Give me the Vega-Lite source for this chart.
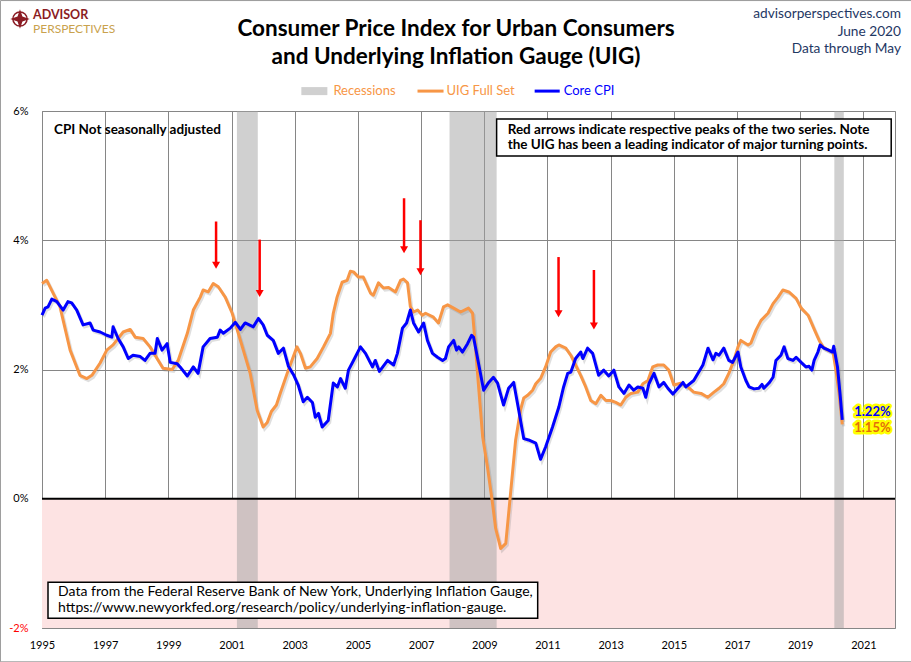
{
  "$schema": "https://vega.github.io/schema/vega-lite/v6.json",
  "width": 853,
  "height": 517,
  "autosize": {"type": "none"},
  "padding": {"left": 42, "top": 111, "right": 16, "bottom": 34},
  "background": "white",
  "config": {
    "view": {"stroke": "#868686", "strokeWidth": 1},
    "font": "Lato",
    "text": {"font": "Lato"}
  },
  "datasets": {
    "cpi": [
      {"date": 1995.00, "series": "UIG Full Set", "value": 3.33},
      {"date": 1995.15, "series": "UIG Full Set", "value": 3.38},
      {"date": 1995.57, "series": "UIG Full Set", "value": 2.97},
      {"date": 1995.89, "series": "UIG Full Set", "value": 2.30},
      {"date": 1996.20, "series": "UIG Full Set", "value": 1.91},
      {"date": 1996.42, "series": "UIG Full Set", "value": 1.86},
      {"date": 1996.58, "series": "UIG Full Set", "value": 1.91},
      {"date": 1996.84, "series": "UIG Full Set", "value": 2.10},
      {"date": 1997.05, "series": "UIG Full Set", "value": 2.30},
      {"date": 1997.25, "series": "UIG Full Set", "value": 2.38},
      {"date": 1997.57, "series": "UIG Full Set", "value": 2.58},
      {"date": 1997.79, "series": "UIG Full Set", "value": 2.62},
      {"date": 1997.95, "series": "UIG Full Set", "value": 2.50},
      {"date": 1998.20, "series": "UIG Full Set", "value": 2.48},
      {"date": 1998.42, "series": "UIG Full Set", "value": 2.35},
      {"date": 1998.68, "series": "UIG Full Set", "value": 2.14},
      {"date": 1998.83, "series": "UIG Full Set", "value": 2.02},
      {"date": 1999.12, "series": "UIG Full Set", "value": 2.00},
      {"date": 1999.31, "series": "UIG Full Set", "value": 2.14},
      {"date": 1999.60, "series": "UIG Full Set", "value": 2.56},
      {"date": 1999.79, "series": "UIG Full Set", "value": 2.92},
      {"date": 2000.01, "series": "UIG Full Set", "value": 3.12},
      {"date": 2000.10, "series": "UIG Full Set", "value": 3.23},
      {"date": 2000.26, "series": "UIG Full Set", "value": 3.20},
      {"date": 2000.42, "series": "UIG Full Set", "value": 3.33},
      {"date": 2000.58, "series": "UIG Full Set", "value": 3.28},
      {"date": 2000.80, "series": "UIG Full Set", "value": 3.12},
      {"date": 2001.02, "series": "UIG Full Set", "value": 2.87},
      {"date": 2001.28, "series": "UIG Full Set", "value": 2.45},
      {"date": 2001.59, "series": "UIG Full Set", "value": 1.94},
      {"date": 2001.81, "series": "UIG Full Set", "value": 1.37},
      {"date": 2002.00, "series": "UIG Full Set", "value": 1.11},
      {"date": 2002.13, "series": "UIG Full Set", "value": 1.18},
      {"date": 2002.26, "series": "UIG Full Set", "value": 1.35},
      {"date": 2002.42, "series": "UIG Full Set", "value": 1.45},
      {"date": 2002.54, "series": "UIG Full Set", "value": 1.63},
      {"date": 2002.76, "series": "UIG Full Set", "value": 1.94},
      {"date": 2002.91, "series": "UIG Full Set", "value": 2.14},
      {"date": 2003.07, "series": "UIG Full Set", "value": 2.35},
      {"date": 2003.18, "series": "UIG Full Set", "value": 2.25},
      {"date": 2003.34, "series": "UIG Full Set", "value": 2.02},
      {"date": 2003.49, "series": "UIG Full Set", "value": 2.04},
      {"date": 2003.71, "series": "UIG Full Set", "value": 2.17},
      {"date": 2003.91, "series": "UIG Full Set", "value": 2.35},
      {"date": 2004.13, "series": "UIG Full Set", "value": 2.56},
      {"date": 2004.22, "series": "UIG Full Set", "value": 2.87},
      {"date": 2004.34, "series": "UIG Full Set", "value": 3.12},
      {"date": 2004.50, "series": "UIG Full Set", "value": 3.35},
      {"date": 2004.66, "series": "UIG Full Set", "value": 3.38},
      {"date": 2004.76, "series": "UIG Full Set", "value": 3.52},
      {"date": 2004.86, "series": "UIG Full Set", "value": 3.51},
      {"date": 2005.02, "series": "UIG Full Set", "value": 3.43},
      {"date": 2005.17, "series": "UIG Full Set", "value": 3.43},
      {"date": 2005.40, "series": "UIG Full Set", "value": 3.18},
      {"date": 2005.49, "series": "UIG Full Set", "value": 3.15},
      {"date": 2005.65, "series": "UIG Full Set", "value": 3.34},
      {"date": 2005.81, "series": "UIG Full Set", "value": 3.26},
      {"date": 2005.97, "series": "UIG Full Set", "value": 3.27},
      {"date": 2006.19, "series": "UIG Full Set", "value": 3.20},
      {"date": 2006.35, "series": "UIG Full Set", "value": 3.38},
      {"date": 2006.44, "series": "UIG Full Set", "value": 3.40},
      {"date": 2006.57, "series": "UIG Full Set", "value": 3.34},
      {"date": 2006.66, "series": "UIG Full Set", "value": 2.97},
      {"date": 2006.76, "series": "UIG Full Set", "value": 2.89},
      {"date": 2006.89, "series": "UIG Full Set", "value": 2.92},
      {"date": 2007.04, "series": "UIG Full Set", "value": 2.84},
      {"date": 2007.14, "series": "UIG Full Set", "value": 2.87},
      {"date": 2007.39, "series": "UIG Full Set", "value": 2.81},
      {"date": 2007.55, "series": "UIG Full Set", "value": 2.72},
      {"date": 2007.71, "series": "UIG Full Set", "value": 2.97},
      {"date": 2007.84, "series": "UIG Full Set", "value": 3.00},
      {"date": 2008.03, "series": "UIG Full Set", "value": 2.95},
      {"date": 2008.25, "series": "UIG Full Set", "value": 2.89},
      {"date": 2008.50, "series": "UIG Full Set", "value": 2.95},
      {"date": 2008.63, "series": "UIG Full Set", "value": 2.87},
      {"date": 2008.72, "series": "UIG Full Set", "value": 2.35},
      {"date": 2008.82, "series": "UIG Full Set", "value": 1.73},
      {"date": 2008.95, "series": "UIG Full Set", "value": 0.95},
      {"date": 2009.10, "series": "UIG Full Set", "value": 0.49},
      {"date": 2009.26, "series": "UIG Full Set", "value": -0.07},
      {"date": 2009.36, "series": "UIG Full Set", "value": -0.46},
      {"date": 2009.52, "series": "UIG Full Set", "value": -0.77},
      {"date": 2009.68, "series": "UIG Full Set", "value": -0.69},
      {"date": 2009.77, "series": "UIG Full Set", "value": -0.23},
      {"date": 2009.90, "series": "UIG Full Set", "value": 0.44},
      {"date": 2009.99, "series": "UIG Full Set", "value": 0.90},
      {"date": 2010.15, "series": "UIG Full Set", "value": 1.38},
      {"date": 2010.25, "series": "UIG Full Set", "value": 1.56},
      {"date": 2010.37, "series": "UIG Full Set", "value": 1.60},
      {"date": 2010.53, "series": "UIG Full Set", "value": 1.68},
      {"date": 2010.63, "series": "UIG Full Set", "value": 1.78},
      {"date": 2010.78, "series": "UIG Full Set", "value": 1.86},
      {"date": 2010.94, "series": "UIG Full Set", "value": 2.04},
      {"date": 2011.10, "series": "UIG Full Set", "value": 2.27},
      {"date": 2011.26, "series": "UIG Full Set", "value": 2.35},
      {"date": 2011.36, "series": "UIG Full Set", "value": 2.38},
      {"date": 2011.58, "series": "UIG Full Set", "value": 2.33},
      {"date": 2011.74, "series": "UIG Full Set", "value": 2.22},
      {"date": 2011.89, "series": "UIG Full Set", "value": 2.07},
      {"date": 2012.05, "series": "UIG Full Set", "value": 1.91},
      {"date": 2012.21, "series": "UIG Full Set", "value": 1.73},
      {"date": 2012.37, "series": "UIG Full Set", "value": 1.52},
      {"date": 2012.53, "series": "UIG Full Set", "value": 1.47},
      {"date": 2012.69, "series": "UIG Full Set", "value": 1.60},
      {"date": 2012.85, "series": "UIG Full Set", "value": 1.52},
      {"date": 2013.00, "series": "UIG Full Set", "value": 1.52},
      {"date": 2013.16, "series": "UIG Full Set", "value": 1.49},
      {"date": 2013.32, "series": "UIG Full Set", "value": 1.45},
      {"date": 2013.48, "series": "UIG Full Set", "value": 1.57},
      {"date": 2013.64, "series": "UIG Full Set", "value": 1.63},
      {"date": 2013.86, "series": "UIG Full Set", "value": 1.65},
      {"date": 2014.02, "series": "UIG Full Set", "value": 1.78},
      {"date": 2014.18, "series": "UIG Full Set", "value": 1.83},
      {"date": 2014.33, "series": "UIG Full Set", "value": 2.04},
      {"date": 2014.49, "series": "UIG Full Set", "value": 2.07},
      {"date": 2014.68, "series": "UIG Full Set", "value": 2.07},
      {"date": 2014.84, "series": "UIG Full Set", "value": 1.99},
      {"date": 2015.00, "series": "UIG Full Set", "value": 1.76},
      {"date": 2015.22, "series": "UIG Full Set", "value": 1.79},
      {"date": 2015.44, "series": "UIG Full Set", "value": 1.73},
      {"date": 2015.63, "series": "UIG Full Set", "value": 1.65},
      {"date": 2015.86, "series": "UIG Full Set", "value": 1.63},
      {"date": 2016.07, "series": "UIG Full Set", "value": 1.57},
      {"date": 2016.27, "series": "UIG Full Set", "value": 1.65},
      {"date": 2016.43, "series": "UIG Full Set", "value": 1.71},
      {"date": 2016.58, "series": "UIG Full Set", "value": 1.78},
      {"date": 2016.74, "series": "UIG Full Set", "value": 1.94},
      {"date": 2016.90, "series": "UIG Full Set", "value": 2.14},
      {"date": 2017.03, "series": "UIG Full Set", "value": 2.35},
      {"date": 2017.12, "series": "UIG Full Set", "value": 2.45},
      {"date": 2017.35, "series": "UIG Full Set", "value": 2.38},
      {"date": 2017.44, "series": "UIG Full Set", "value": 2.41},
      {"date": 2017.60, "series": "UIG Full Set", "value": 2.61},
      {"date": 2017.76, "series": "UIG Full Set", "value": 2.76},
      {"date": 2017.98, "series": "UIG Full Set", "value": 2.87},
      {"date": 2018.14, "series": "UIG Full Set", "value": 3.02},
      {"date": 2018.30, "series": "UIG Full Set", "value": 3.12},
      {"date": 2018.45, "series": "UIG Full Set", "value": 3.23},
      {"date": 2018.64, "series": "UIG Full Set", "value": 3.20},
      {"date": 2018.87, "series": "UIG Full Set", "value": 3.10},
      {"date": 2019.03, "series": "UIG Full Set", "value": 2.95},
      {"date": 2019.25, "series": "UIG Full Set", "value": 2.84},
      {"date": 2019.41, "series": "UIG Full Set", "value": 2.66},
      {"date": 2019.50, "series": "UIG Full Set", "value": 2.56},
      {"date": 2019.60, "series": "UIG Full Set", "value": 2.45},
      {"date": 2019.72, "series": "UIG Full Set", "value": 2.35},
      {"date": 2019.88, "series": "UIG Full Set", "value": 2.30},
      {"date": 2020.04, "series": "UIG Full Set", "value": 2.27},
      {"date": 2020.13, "series": "UIG Full Set", "value": 1.99},
      {"date": 2020.23, "series": "UIG Full Set", "value": 1.63},
      {"date": 2020.33, "series": "UIG Full Set", "value": 1.15},
      {"date": 1995.00, "series": "Core CPI", "value": 2.84},
      {"date": 1995.10, "series": "Core CPI", "value": 2.95},
      {"date": 1995.19, "series": "Core CPI", "value": 2.97},
      {"date": 1995.31, "series": "Core CPI", "value": 3.09},
      {"date": 1995.47, "series": "Core CPI", "value": 3.05},
      {"date": 1995.67, "series": "Core CPI", "value": 2.92},
      {"date": 1995.82, "series": "Core CPI", "value": 3.05},
      {"date": 1995.94, "series": "Core CPI", "value": 3.03},
      {"date": 1996.10, "series": "Core CPI", "value": 2.92},
      {"date": 1996.30, "series": "Core CPI", "value": 2.69},
      {"date": 1996.52, "series": "Core CPI", "value": 2.72},
      {"date": 1996.62, "series": "Core CPI", "value": 2.61},
      {"date": 1996.84, "series": "Core CPI", "value": 2.58},
      {"date": 1997.05, "series": "Core CPI", "value": 2.53},
      {"date": 1997.21, "series": "Core CPI", "value": 2.50},
      {"date": 1997.25, "series": "Core CPI", "value": 2.66},
      {"date": 1997.41, "series": "Core CPI", "value": 2.48},
      {"date": 1997.57, "series": "Core CPI", "value": 2.35},
      {"date": 1997.73, "series": "Core CPI", "value": 2.17},
      {"date": 1997.88, "series": "Core CPI", "value": 2.22},
      {"date": 1998.11, "series": "Core CPI", "value": 2.20},
      {"date": 1998.26, "series": "Core CPI", "value": 2.14},
      {"date": 1998.42, "series": "Core CPI", "value": 2.25},
      {"date": 1998.58, "series": "Core CPI", "value": 2.25},
      {"date": 1998.65, "series": "Core CPI", "value": 2.48},
      {"date": 1998.80, "series": "Core CPI", "value": 2.30},
      {"date": 1998.96, "series": "Core CPI", "value": 2.40},
      {"date": 1999.06, "series": "Core CPI", "value": 2.11},
      {"date": 1999.28, "series": "Core CPI", "value": 2.09},
      {"date": 1999.37, "series": "Core CPI", "value": 2.04},
      {"date": 1999.60, "series": "Core CPI", "value": 1.90},
      {"date": 1999.79, "series": "Core CPI", "value": 2.04},
      {"date": 1999.94, "series": "Core CPI", "value": 1.94},
      {"date": 2000.10, "series": "Core CPI", "value": 2.35},
      {"date": 2000.32, "series": "Core CPI", "value": 2.48},
      {"date": 2000.55, "series": "Core CPI", "value": 2.50},
      {"date": 2000.64, "series": "Core CPI", "value": 2.61},
      {"date": 2000.74, "series": "Core CPI", "value": 2.56},
      {"date": 2000.96, "series": "Core CPI", "value": 2.64},
      {"date": 2001.12, "series": "Core CPI", "value": 2.73},
      {"date": 2001.28, "series": "Core CPI", "value": 2.62},
      {"date": 2001.43, "series": "Core CPI", "value": 2.72},
      {"date": 2001.69, "series": "Core CPI", "value": 2.66},
      {"date": 2001.85, "series": "Core CPI", "value": 2.79},
      {"date": 2002.00, "series": "Core CPI", "value": 2.69},
      {"date": 2002.13, "series": "Core CPI", "value": 2.53},
      {"date": 2002.32, "series": "Core CPI", "value": 2.45},
      {"date": 2002.48, "series": "Core CPI", "value": 2.25},
      {"date": 2002.64, "series": "Core CPI", "value": 2.33},
      {"date": 2002.80, "series": "Core CPI", "value": 2.05},
      {"date": 2002.96, "series": "Core CPI", "value": 1.92},
      {"date": 2003.11, "series": "Core CPI", "value": 1.76},
      {"date": 2003.27, "series": "Core CPI", "value": 1.50},
      {"date": 2003.40, "series": "Core CPI", "value": 1.57},
      {"date": 2003.56, "series": "Core CPI", "value": 1.49},
      {"date": 2003.65, "series": "Core CPI", "value": 1.26},
      {"date": 2003.75, "series": "Core CPI", "value": 1.32},
      {"date": 2003.87, "series": "Core CPI", "value": 1.11},
      {"date": 2004.06, "series": "Core CPI", "value": 1.21},
      {"date": 2004.22, "series": "Core CPI", "value": 1.79},
      {"date": 2004.35, "series": "Core CPI", "value": 1.73},
      {"date": 2004.45, "series": "Core CPI", "value": 1.86},
      {"date": 2004.60, "series": "Core CPI", "value": 1.71},
      {"date": 2004.70, "series": "Core CPI", "value": 1.99},
      {"date": 2004.86, "series": "Core CPI", "value": 2.14},
      {"date": 2005.08, "series": "Core CPI", "value": 2.35},
      {"date": 2005.24, "series": "Core CPI", "value": 2.25},
      {"date": 2005.46, "series": "Core CPI", "value": 2.04},
      {"date": 2005.55, "series": "Core CPI", "value": 2.14},
      {"date": 2005.68, "series": "Core CPI", "value": 1.97},
      {"date": 2005.94, "series": "Core CPI", "value": 2.14},
      {"date": 2006.13, "series": "Core CPI", "value": 2.07},
      {"date": 2006.25, "series": "Core CPI", "value": 2.25},
      {"date": 2006.41, "series": "Core CPI", "value": 2.64},
      {"date": 2006.54, "series": "Core CPI", "value": 2.72},
      {"date": 2006.66, "series": "Core CPI", "value": 2.92},
      {"date": 2006.76, "series": "Core CPI", "value": 2.72},
      {"date": 2006.92, "series": "Core CPI", "value": 2.58},
      {"date": 2007.08, "series": "Core CPI", "value": 2.72},
      {"date": 2007.20, "series": "Core CPI", "value": 2.45},
      {"date": 2007.36, "series": "Core CPI", "value": 2.25},
      {"date": 2007.52, "series": "Core CPI", "value": 2.19},
      {"date": 2007.68, "series": "Core CPI", "value": 2.14},
      {"date": 2007.77, "series": "Core CPI", "value": 2.17},
      {"date": 2007.87, "series": "Core CPI", "value": 2.35},
      {"date": 2008.03, "series": "Core CPI", "value": 2.45},
      {"date": 2008.12, "series": "Core CPI", "value": 2.30},
      {"date": 2008.19, "series": "Core CPI", "value": 2.35},
      {"date": 2008.31, "series": "Core CPI", "value": 2.27},
      {"date": 2008.47, "series": "Core CPI", "value": 2.40},
      {"date": 2008.60, "series": "Core CPI", "value": 2.53},
      {"date": 2008.66, "series": "Core CPI", "value": 2.50},
      {"date": 2008.82, "series": "Core CPI", "value": 2.09},
      {"date": 2008.98, "series": "Core CPI", "value": 1.68},
      {"date": 2009.14, "series": "Core CPI", "value": 1.80},
      {"date": 2009.29, "series": "Core CPI", "value": 1.88},
      {"date": 2009.42, "series": "Core CPI", "value": 1.79},
      {"date": 2009.61, "series": "Core CPI", "value": 1.45},
      {"date": 2009.77, "series": "Core CPI", "value": 1.71},
      {"date": 2009.93, "series": "Core CPI", "value": 1.80},
      {"date": 2010.09, "series": "Core CPI", "value": 1.37},
      {"date": 2010.25, "series": "Core CPI", "value": 0.93},
      {"date": 2010.40, "series": "Core CPI", "value": 0.91},
      {"date": 2010.63, "series": "Core CPI", "value": 0.86},
      {"date": 2010.78, "series": "Core CPI", "value": 0.61},
      {"date": 2010.94, "series": "Core CPI", "value": 0.80},
      {"date": 2011.16, "series": "Core CPI", "value": 1.11},
      {"date": 2011.36, "series": "Core CPI", "value": 1.42},
      {"date": 2011.51, "series": "Core CPI", "value": 1.73},
      {"date": 2011.64, "series": "Core CPI", "value": 1.94},
      {"date": 2011.74, "series": "Core CPI", "value": 1.96},
      {"date": 2011.89, "series": "Core CPI", "value": 2.17},
      {"date": 2012.05, "series": "Core CPI", "value": 2.27},
      {"date": 2012.12, "series": "Core CPI", "value": 2.17},
      {"date": 2012.27, "series": "Core CPI", "value": 2.33},
      {"date": 2012.43, "series": "Core CPI", "value": 2.25},
      {"date": 2012.62, "series": "Core CPI", "value": 1.91},
      {"date": 2012.78, "series": "Core CPI", "value": 1.99},
      {"date": 2012.94, "series": "Core CPI", "value": 1.90},
      {"date": 2013.10, "series": "Core CPI", "value": 1.99},
      {"date": 2013.26, "series": "Core CPI", "value": 1.73},
      {"date": 2013.42, "series": "Core CPI", "value": 1.63},
      {"date": 2013.58, "series": "Core CPI", "value": 1.76},
      {"date": 2013.73, "series": "Core CPI", "value": 1.68},
      {"date": 2013.86, "series": "Core CPI", "value": 1.73},
      {"date": 2014.02, "series": "Core CPI", "value": 1.71},
      {"date": 2014.11, "series": "Core CPI", "value": 1.57},
      {"date": 2014.21, "series": "Core CPI", "value": 1.78},
      {"date": 2014.37, "series": "Core CPI", "value": 1.94},
      {"date": 2014.53, "series": "Core CPI", "value": 1.73},
      {"date": 2014.68, "series": "Core CPI", "value": 1.80},
      {"date": 2014.81, "series": "Core CPI", "value": 1.71},
      {"date": 2014.97, "series": "Core CPI", "value": 1.62},
      {"date": 2015.13, "series": "Core CPI", "value": 1.71},
      {"date": 2015.29, "series": "Core CPI", "value": 1.80},
      {"date": 2015.38, "series": "Core CPI", "value": 1.73},
      {"date": 2015.63, "series": "Core CPI", "value": 1.83},
      {"date": 2015.76, "series": "Core CPI", "value": 1.94},
      {"date": 2015.92, "series": "Core CPI", "value": 2.07},
      {"date": 2016.08, "series": "Core CPI", "value": 2.33},
      {"date": 2016.24, "series": "Core CPI", "value": 2.15},
      {"date": 2016.33, "series": "Core CPI", "value": 2.25},
      {"date": 2016.43, "series": "Core CPI", "value": 2.22},
      {"date": 2016.58, "series": "Core CPI", "value": 2.33},
      {"date": 2016.74, "series": "Core CPI", "value": 2.14},
      {"date": 2016.86, "series": "Core CPI", "value": 2.11},
      {"date": 2017.03, "series": "Core CPI", "value": 2.27},
      {"date": 2017.12, "series": "Core CPI", "value": 2.04},
      {"date": 2017.28, "series": "Core CPI", "value": 1.83},
      {"date": 2017.38, "series": "Core CPI", "value": 1.73},
      {"date": 2017.54, "series": "Core CPI", "value": 1.70},
      {"date": 2017.69, "series": "Core CPI", "value": 1.71},
      {"date": 2017.79, "series": "Core CPI", "value": 1.77},
      {"date": 2017.85, "series": "Core CPI", "value": 1.71},
      {"date": 2018.01, "series": "Core CPI", "value": 1.79},
      {"date": 2018.14, "series": "Core CPI", "value": 1.88},
      {"date": 2018.23, "series": "Core CPI", "value": 2.14},
      {"date": 2018.39, "series": "Core CPI", "value": 2.22},
      {"date": 2018.49, "series": "Core CPI", "value": 2.35},
      {"date": 2018.61, "series": "Core CPI", "value": 2.17},
      {"date": 2018.77, "series": "Core CPI", "value": 2.14},
      {"date": 2018.87, "series": "Core CPI", "value": 2.19},
      {"date": 2019.03, "series": "Core CPI", "value": 2.11},
      {"date": 2019.18, "series": "Core CPI", "value": 2.04},
      {"date": 2019.28, "series": "Core CPI", "value": 2.05},
      {"date": 2019.37, "series": "Core CPI", "value": 1.99},
      {"date": 2019.44, "series": "Core CPI", "value": 2.14},
      {"date": 2019.56, "series": "Core CPI", "value": 2.27},
      {"date": 2019.63, "series": "Core CPI", "value": 2.38},
      {"date": 2019.75, "series": "Core CPI", "value": 2.33},
      {"date": 2019.90, "series": "Core CPI", "value": 2.30},
      {"date": 2020.02, "series": "Core CPI", "value": 2.27},
      {"date": 2020.06, "series": "Core CPI", "value": 2.36},
      {"date": 2020.18, "series": "Core CPI", "value": 2.04},
      {"date": 2020.27, "series": "Core CPI", "value": 1.57},
      {"date": 2020.33, "series": "Core CPI", "value": 1.22}
    ],
    "recessions": [
      {"start": 2001.17, "end": 2001.83},
      {"start": 2007.90, "end": 2009.39},
      {"start": 2020.08, "end": 2020.38}
    ],
    "arrows": [
      {"date": 2000.51, "top": 4.29, "tip": 3.56},
      {"date": 2001.89, "top": 4.01, "tip": 3.12},
      {"date": 2006.46, "top": 4.65, "tip": 3.80},
      {"date": 2006.98, "top": 4.31, "tip": 3.46},
      {"date": 2011.35, "top": 3.74, "tip": 2.81},
      {"date": 2012.47, "top": 3.54, "tip": 2.62}
    ],
    "boxes": [
      {"left": 2009.39, "right": 2021.88, "top": 5.875, "bottom": 5.302},
      {"left": 1995.19, "right": 2010.69, "top": -1.293, "bottom": -1.85}
    ],
    "boldNotes": [
      {"date": 1995.38, "value": 5.70, "text": "CPI Not seasonally adjusted"},
      {"date": 2009.74, "value": 5.704, "text": "Red arrows indicate respective peaks of the two series. Note\nthe UIG has been a leading indicator of major turning points."}
    ],
    "lastValues": [
      {"date": 2020.33, "series": "Core CPI", "value": 1.22, "text": "1.22%"},
      {"date": 2020.33, "series": "UIG Full Set", "value": 1.15, "text": "1.15%"}
    ],
    "legendLines": [
      {"start": 2006.886, "end": 2007.71, "series": "UIG Full Set"},
      {"start": 2010.594, "end": 2011.387, "series": "Core CPI"}
    ],
    "legendLabels": [
      {"date": 2004.223, "series": "Recessions"},
      {"date": 2007.805, "series": "UIG Full Set"},
      {"date": 2011.513, "series": "Core CPI"}
    ]
  },
  "layer": [
    {
      "data": {"values": [{}]},
      "mark": {"type": "rect", "color": "#fde3e3"},
      "encoding": {
        "y": {"datum": 0, "type": "quantitative", "title": null},
        "y2": {"datum": -2}
      }
    },
    {
      "data": {"name": "recessions"},
      "mark": {"type": "rect", "color": "#a2a2a2", "opacity": 0.5},
      "encoding": {
        "x": {"field": "start", "type": "quantitative", "title": null},
        "x2": {"field": "end"}
      }
    },
    {
      "data": {"values": [{}]},
      "mark": {"type": "rule", "color": "black", "strokeWidth": 2},
      "encoding": {"y": {"datum": 0, "type": "quantitative", "title": null}}
    },
    {
      "data": {"name": "cpi"},
      "mark": {"type": "line", "color": "#7f7f7f", "opacity": 0.25, "strokeWidth": 3, "xOffset": 1.5, "yOffset": 2},
      "encoding": {
        "x": {"field": "date", "type": "quantitative", "title": null},
        "y": {"field": "value", "type": "quantitative", "title": null},
        "detail": {"field": "series"}
      }
    },
    {
      "data": {"name": "cpi"},
      "transform": [{"filter": "datum.series === 'UIG Full Set'"}],
      "mark": {"type": "line", "strokeWidth": 3, "strokeJoin": "round"},
      "encoding": {
        "x": {
          "field": "date",
          "type": "quantitative",
          "title": null,
          "scale": {"domain": [1995, 2022], "nice": false, "zero": false},
          "axis": {
            "values": [1995, 1996, 1997, 1998, 1999, 2000, 2001, 2002, 2003, 2004, 2005, 2006, 2007, 2008, 2009, 2010, 2011, 2012, 2013, 2014, 2015, 2016, 2017, 2018, 2019, 2020, 2021, 2022],
            "format": "d",
            "labelExpr": "datum.value % 2 === 1 ? datum.label : ''",
            "grid": true,
            "gridColor": {"condition": {"test": "datum.value % 2 === 1", "value": "#868686"}, "value": "#d4d4d4"},
            "ticks": false,
            "domain": false,
            "labelFont": "Lato",
            "labelFontSize": 11,
            "labelColor": "black",
            "labelPadding": 11,
            "labelFlush": false,
            "labelOverlap": false,
            "labelBound": false
          }
        },
        "y": {
          "field": "value",
          "type": "quantitative",
          "title": null,
          "scale": {"domain": [-2, 6], "nice": false, "zero": false},
          "axis": {
            "values": [-2, 0, 2, 4, 6],
            "labelExpr": "datum.value + '%'",
            "labelColor": {"condition": {"test": "datum.value < 0", "value": "#ff0000"}, "value": "black"},
            "grid": true,
            "gridColor": "#868686",
            "ticks": false,
            "domain": false,
            "labelFont": "Lato",
            "labelFontSize": 11,
            "labelPadding": 14
          }
        },
        "color": {
          "field": "series",
          "type": "nominal",
          "scale": {"domain": ["UIG Full Set", "Core CPI"], "range": ["#f79646", "#0000ff"]},
          "legend": null
        }
      }
    },
    {
      "data": {"name": "cpi"},
      "transform": [{"filter": "datum.series === 'Core CPI'"}],
      "mark": {"type": "line", "strokeWidth": 3, "strokeJoin": "round"},
      "encoding": {
        "x": {"field": "date", "type": "quantitative", "title": null},
        "y": {"field": "value", "type": "quantitative", "title": null},
        "color": {"field": "series", "type": "nominal", "legend": null}
      }
    },
    {
      "data": {"name": "arrows"},
      "mark": {"type": "rule", "color": "#ff0000", "strokeWidth": 2.5, "y2Offset": -5},
      "encoding": {
        "x": {"field": "date", "type": "quantitative", "title": null},
        "y": {"field": "top", "type": "quantitative", "title": null},
        "y2": {"field": "tip"}
      }
    },
    {
      "data": {"name": "arrows"},
      "mark": {"type": "point", "shape": "M-1,-1.75L1,-1.75L0,0Z", "filled": true, "color": "#ff0000", "size": 64, "opacity": 1},
      "encoding": {
        "x": {"field": "date", "type": "quantitative", "title": null},
        "y": {"field": "tip", "type": "quantitative", "title": null}
      }
    },
    {
      "data": {"name": "boxes"},
      "mark": {"type": "rect", "fill": "white", "stroke": "black", "strokeWidth": 1.5},
      "encoding": {
        "x": {"field": "left", "type": "quantitative", "title": null},
        "x2": {"field": "right"},
        "y": {"field": "top", "type": "quantitative", "title": null},
        "y2": {"field": "bottom"}
      }
    },
    {
      "data": {"name": "boldNotes"},
      "mark": {"type": "text", "align": "left", "baseline": "middle", "font": "Lato", "fontSize": 13.5, "fontWeight": "bold", "color": "black", "lineBreak": "\n", "lineHeight": 15},
      "encoding": {
        "x": {"field": "date", "type": "quantitative", "title": null},
        "y": {"field": "value", "type": "quantitative", "title": null},
        "text": {"field": "text"}
      }
    },
    {
      "data": {"values": [{}]},
      "mark": {"type": "text", "align": "left", "baseline": "middle", "font": "Lato", "fontSize": 14, "color": "black", "lineBreak": "\n", "lineHeight": 16},
      "encoding": {
        "x": {"datum": 1995.51, "type": "quantitative", "title": null},
        "y": {"datum": -1.447, "type": "quantitative", "title": null},
        "text": {"value": "Data from the Federal Reserve Bank of New York, Underlying Inflation Gauge,\nhttps://www.newyorkfed.org/research/policy/underlying-inflation-gauge."}
      }
    },
    {
      "data": {"name": "lastValues"},
      "transform": [{"filter": "datum.series === 'Core CPI'"}],
      "layer": [
        {"mark": {"type": "text", "align": "left", "baseline": "middle", "dx": 12, "dy": -8, "font": "Lato", "fontSize": 13, "fontWeight": "bold", "fill": "#ffff00", "stroke": "#ffff00", "strokeWidth": 5, "strokeJoin": "round"}},
        {"mark": {"type": "text", "align": "left", "baseline": "middle", "dx": 12, "dy": -8, "font": "Lato", "fontSize": 13, "fontWeight": "bold", "fill": "#0000ff"}}
      ],
      "encoding": {
        "x": {"field": "date", "type": "quantitative", "title": null},
        "y": {"field": "value", "type": "quantitative", "title": null},
        "text": {"field": "text"}
      }
    },
    {
      "data": {"name": "lastValues"},
      "transform": [{"filter": "datum.series === 'UIG Full Set'"}],
      "layer": [
        {"mark": {"type": "text", "align": "left", "baseline": "middle", "dx": 12, "dy": 4, "font": "Lato", "fontSize": 13, "fontWeight": "bold", "fill": "#ffff00", "stroke": "#ffff00", "strokeWidth": 5, "strokeJoin": "round"}},
        {"mark": {"type": "text", "align": "left", "baseline": "middle", "dx": 12, "dy": 4, "font": "Lato", "fontSize": 13, "fontWeight": "bold", "fill": "#e46c0a"}}
      ],
      "encoding": {
        "x": {"field": "date", "type": "quantitative", "title": null},
        "y": {"field": "value", "type": "quantitative", "title": null},
        "text": {"field": "text"}
      }
    },
    {
      "data": {"values": [{}]},
      "mark": {"type": "rect", "color": "#d0d0d0"},
      "encoding": {
        "x": {"datum": 2003.209, "type": "quantitative", "title": null},
        "x2": {"datum": 2004.033},
        "y": {"datum": 6.37, "type": "quantitative", "title": null},
        "y2": {"datum": 6.246}
      }
    },
    {
      "data": {"name": "legendLines"},
      "mark": {"type": "rule", "strokeWidth": 3},
      "encoding": {
        "x": {"field": "start", "type": "quantitative", "title": null},
        "x2": {"field": "end"},
        "y": {"datum": 6.308, "type": "quantitative", "title": null},
        "color": {"field": "series", "type": "nominal", "legend": null}
      }
    },
    {
      "data": {"name": "legendLabels"},
      "mark": {"type": "text", "align": "left", "baseline": "middle", "font": "Lato", "fontSize": 13},
      "encoding": {
        "x": {"field": "date", "type": "quantitative", "title": null},
        "y": {"datum": 6.308, "type": "quantitative", "title": null},
        "text": {"field": "series"},
        "color": {
          "field": "series",
          "type": "nominal",
          "scale": {"domain": ["Recessions", "UIG Full Set", "Core CPI"], "range": ["#a6a6a6", "#f79646", "#0000ff"]},
          "legend": null
        }
      }
    },
    {
      "data": {"values": [{}]},
      "mark": {"type": "text", "align": "center", "baseline": "middle", "font": "Lato", "fontSize": 22.5, "fontWeight": "bold", "color": "black", "lineBreak": "\n", "lineHeight": 28},
      "encoding": {
        "x": {"datum": 2008.106, "type": "quantitative", "title": null},
        "y": {"datum": 7.276, "type": "quantitative", "title": null},
        "text": {"value": "Consumer Price Index for Urban Consumers\nand Underlying Inflation Gauge (UIG)"}
      }
    },
    {
      "data": {"values": [{}]},
      "mark": {"type": "text", "align": "right", "baseline": "middle", "font": "Lato", "fontSize": 13.7, "color": "#1f3864", "lineBreak": "\n", "lineHeight": 17.5},
      "encoding": {
        "x": {"datum": 2022.19, "type": "quantitative", "title": null},
        "y": {"datum": 7.5, "type": "quantitative", "title": null},
        "text": {"value": "advisorperspectives.com\nJune 2020\nData through May"}
      }
    },
    {
      "data": {"values": [{}]},
      "mark": {"type": "text", "align": "left", "baseline": "middle", "font": "Lato", "fontSize": 12.5, "fontWeight": "bold", "color": "#8b1c24"},
      "encoding": {
        "x": {"datum": 1994.715, "type": "quantitative", "title": null},
        "y": {"datum": 7.485, "type": "quantitative", "title": null},
        "text": {"value": "ADVISOR"}
      }
    },
    {
      "data": {"values": [{}]},
      "mark": {"type": "text", "align": "left", "baseline": "middle", "font": "Lato", "fontSize": 12, "color": "#c9a24d"},
      "encoding": {
        "x": {"datum": 1994.715, "type": "quantitative", "title": null},
        "y": {"datum": 7.276, "type": "quantitative", "title": null},
        "text": {"value": "PERSPECTIVES"}
      }
    },
    {
      "data": {"values": [{}]},
      "mark": {"type": "point", "shape": "circle", "filled": false, "stroke": "#8b1c24", "strokeWidth": 1.5, "size": 200, "opacity": 1},
      "encoding": {
        "x": {"datum": 1994.303, "type": "quantitative", "title": null},
        "y": {"datum": 7.423, "type": "quantitative", "title": null}
      }
    },
    {
      "data": {"values": [{}]},
      "mark": {"type": "point", "shape": "M0,-1L0.25,-0.25L1,0L0.25,0.25L0,1L-0.25,0.25L-1,0L-0.25,-0.25Z", "filled": true, "color": "#8b1c24", "size": 380, "opacity": 1},
      "encoding": {
        "x": {"datum": 1994.303, "type": "quantitative", "title": null},
        "y": {"datum": 7.423, "type": "quantitative", "title": null}
      }
    },
    {
      "data": {"values": [{}]},
      "mark": {"type": "rect", "fill": "transparent", "stroke": "#9a9a9a", "strokeWidth": 1},
      "encoding": {
        "x": {"datum": 1993.685, "type": "quantitative", "title": null},
        "x2": {"datum": 2022.527},
        "y": {"datum": 7.709, "type": "quantitative", "title": null},
        "y2": {"datum": -2.523}
      }
    }
  ]
}
